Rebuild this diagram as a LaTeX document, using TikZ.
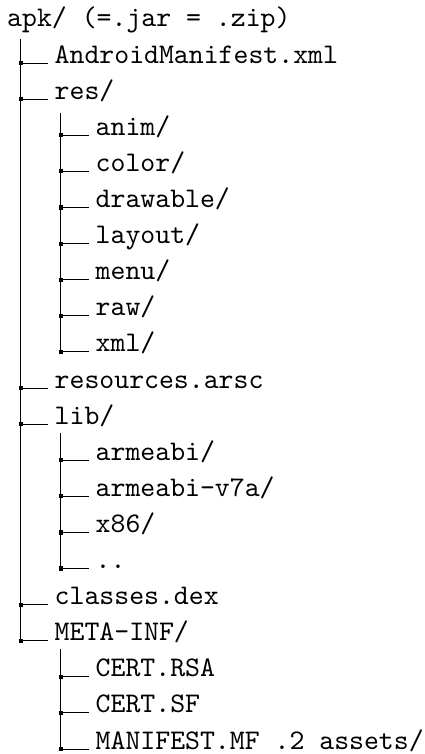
\documentclass[tikz,border=0pt]{standalone}
\usepackage{fontspec}
% the 10pt design of Latin Modern Mono, scaled up
\newfontfamily\treefont{lmmono10-regular}[Extension=.otf]
\begin{document}
\begin{tikzpicture}[x=1pt,y=-1pt,
  entry/.style={anchor=base west,inner xsep=6.5pt,inner ysep=0pt,
    font=\treefont\fontsize{28.4pt}{36pt}\selectfont},
  rootentry/.style={entry,inner xsep=0pt},
  branch/.style={draw=black,line width=1pt},
  junc/.style={rectangle,fill=black,inner sep=0pt,minimum size=4.2pt}]
\useasboundingbox (0,0) rectangle (425,754);

% root
\node[rootentry] (apk) at (7,27) {apk/ (=.jar = .zip)};

% first level
\node[entry] (am)   at (48,63.1)  {AndroidManifest.xml};
\node[entry] (res)  at (48,99.2)  {res/};
\node[entry] (arsc) at (48,388.0) {resources.arsc};
\node[entry] (lib)  at (48,424.1) {lib/};
\node[entry] (dex)  at (48,604.6) {classes.dex};
\node[entry] (meta) at (48,640.7) {META-INF/};

% res/ contents
\node[entry] (anim)     at (89,135.3) {anim/};
\node[entry] (color)    at (89,171.4) {color/};
\node[entry] (drawable) at (89,207.5) {drawable/};
\node[entry] (layout)   at (89,243.6) {layout/};
\node[entry] (menu)     at (89,279.7) {menu/};
\node[entry] (raw)      at (89,315.8) {raw/};
\node[entry] (xml)      at (89,351.9) {xml/};

% lib/ contents
\node[entry] (arm)   at (89,460.2) {armeabi/};
\node[entry] (armv7) at (89,496.3) {armeabi-v7a/};
\node[entry] (x86)   at (89,532.4) {x86/};
\node[entry] (more)  at (89,568.5) {..};

% META-INF/ contents
\node[entry] (rsa) at (89,676.8) {CERT.RSA};
\node[entry] (sf)  at (89,712.9) {CERT.SF};
\node[entry] (mf)  at (89,749.0) {MANIFEST.MF .2 assets/};

% tops of the vertical trunks
\coordinate (tapk)  at (20.7,39);
\coordinate (tres)  at (60.7,113);
\coordinate (tlib)  at (60.7,433);
\coordinate (tmeta) at (60.7,649);

% vertical trunks
\draw[branch] (tapk)  -- (tapk |- meta.base);
\draw[branch] (tres)  -- (tres |- xml.base);
\draw[branch] (tlib)  -- (tlib |- more.base);
\draw[branch] (tmeta) -- (tmeta |- mf.base);

% horizontal branches with junction marks
\foreach \n in {am,res,arsc,lib,dex,meta}
  \draw[branch] (tapk |- \n.base) node[junc]{} -- (\n.base west);
\foreach \n in {anim,color,drawable,layout,menu,raw,xml}
  \draw[branch] (tres |- \n.base) node[junc]{} -- (\n.base west);
\foreach \n in {arm,armv7,x86,more}
  \draw[branch] (tlib |- \n.base) node[junc]{} -- (\n.base west);
\foreach \n in {rsa,sf,mf}
  \draw[branch] (tmeta |- \n.base) node[junc]{} -- (\n.base west);
\end{tikzpicture}
\end{document}
